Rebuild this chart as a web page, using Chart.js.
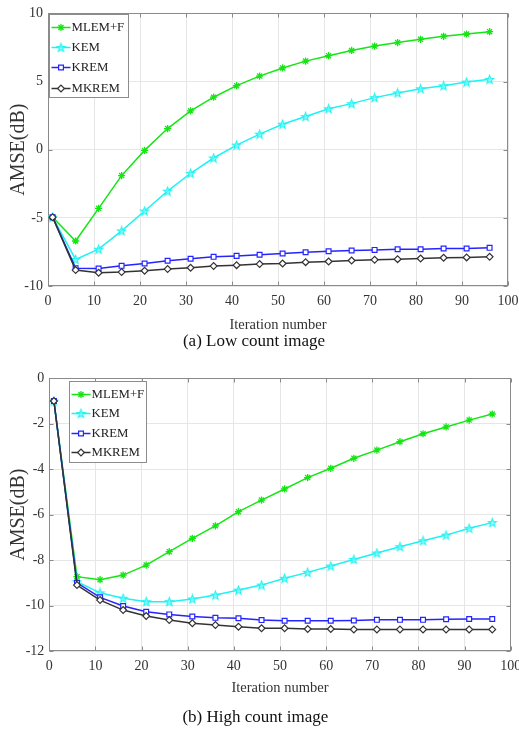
<!DOCTYPE html>
<html><head><meta charset="utf-8">
<script src="https://cdn.jsdelivr.net/npm/chart.js@4.4.1/dist/chart.umd.min.js"></script>
<style>
html,body{margin:0;padding:0;background:#fff;}
#wrap{width:519px;height:730px;position:relative;overflow:hidden;background:#fff}
canvas{display:block}
</style></head><body>
<div id="wrap">
<canvas id="c1" width="519" height="360"></canvas>
<canvas id="c2" width="519" height="370"></canvas>
</div>
<script>
// ---------- data ----------
const iterations = [1, 6, 11, 16, 21, 26, 31, 36, 41, 46, 51, 56, 61, 66, 71, 76, 81, 86, 91, 96];
const seriesNames = ['MLEM+F', 'KEM', 'KREM', 'MKREM'];

// (a) Low count image
const mlemLow  = [-4.95, -6.7, -4.3, -1.9, -0.05, 1.55, 2.85, 3.85, 4.7, 5.4, 6.0, 6.5, 6.9, 7.28, 7.6, 7.86, 8.1, 8.32, 8.49, 8.66];
const kemLow   = [-4.95, -8.05, -7.3, -5.96, -4.5, -3.04, -1.73, -0.61, 0.34, 1.14, 1.87, 2.43, 3.0, 3.38, 3.82, 4.16, 4.47, 4.69, 4.96, 5.16];
const kremLow  = [-4.95, -8.69, -8.72, -8.52, -8.35, -8.15, -8.0, -7.86, -7.79, -7.71, -7.62, -7.52, -7.45, -7.4, -7.35, -7.3, -7.3, -7.25, -7.25, -7.2];
const mkremLow = [-4.95, -8.83, -9.03, -8.98, -8.88, -8.76, -8.66, -8.54, -8.47, -8.39, -8.35, -8.25, -8.2, -8.13, -8.08, -8.03, -7.98, -7.93, -7.9, -7.86];

// (b) High count image
const mlemHigh  = [-1.0, -8.73, -8.86, -8.66, -8.22, -7.63, -7.04, -6.49, -5.87, -5.36, -4.87, -4.37, -3.96, -3.52, -3.16, -2.79, -2.44, -2.14, -1.84, -1.57];
const kemHigh   = [-1.0, -8.95, -9.44, -9.68, -9.83, -9.83, -9.71, -9.54, -9.32, -9.1, -8.8, -8.54, -8.26, -7.97, -7.69, -7.41, -7.15, -6.9, -6.6, -6.35];
const kremHigh  = [-1.0, -9.0, -9.64, -10.02, -10.27, -10.39, -10.48, -10.54, -10.56, -10.64, -10.67, -10.67, -10.67, -10.66, -10.63, -10.63, -10.63, -10.6, -10.59, -10.59];
const mkremHigh = [-1.0, -9.1, -9.76, -10.2, -10.46, -10.64, -10.78, -10.86, -10.93, -11.0, -11.0, -11.03, -11.03, -11.05, -11.05, -11.05, -11.05, -11.05, -11.05, -11.05];

const xTitle = 'Iteration number';
const yTitle = 'AMSE(dB)';
const captionLow = '(a) Low count image';
const captionHigh = '(b) High count image';

// ---------- styles ----------
const FONT = '"Liberation Serif", "Times New Roman", Times, serif';
const GREEN = '#14e614', CYAN = '#1ef2f2', BLUE = '#2424ff', BLACK = '#333333';

// pentagram marker drawn on a small canvas
function makePentagram(color) {
  const c = document.createElement('canvas');
  c.width = 11; c.height = 11;
  const g = c.getContext('2d');
  const cx = 5.5, cy = 5.8, R = 4.4, r = 1.8;
  g.beginPath();
  for (let i = 0; i < 10; i++) {
    const ang = -Math.PI / 2 + i * Math.PI / 5;
    const rad = i % 2 === 0 ? R : r;
    const px = cx + rad * Math.cos(ang), py = cy + rad * Math.sin(ang);
    if (i === 0) g.moveTo(px, py); else g.lineTo(px, py);
  }
  g.closePath();
  g.fillStyle = 'rgba(120,255,255,0.6)';
  g.fill();
  g.strokeStyle = color; g.lineWidth = 1.1;
  g.stroke();
  return c;
}
const PENTA = makePentagram(CYAN);

function pts(vals) { return iterations.map((x, i) => ({x: x, y: vals[i]})); }

function makeDatasets(m, k, kr, mk) {
  return [
    {label: seriesNames[0], data: pts(m), borderColor: GREEN, backgroundColor: GREEN, borderWidth: 1.5,
     pointStyle: 'star', pointRadius: 3.6, pointBorderWidth: 1.3, pointBorderColor: GREEN, pointBackgroundColor: GREEN, order: 3},
    {label: seriesNames[1], data: pts(k), borderColor: CYAN, backgroundColor: CYAN, borderWidth: 1.5,
     pointStyle: PENTA, pointRadius: 4, pointBorderWidth: 1, pointBorderColor: CYAN, pointBackgroundColor: CYAN, order: 2},
    {label: seriesNames[2], data: pts(kr), borderColor: BLUE, backgroundColor: BLUE, borderWidth: 1.5,
     pointStyle: 'rect', pointRadius: 3.4, pointBorderWidth: 1.2, pointBorderColor: BLUE, pointBackgroundColor: '#ffffff', order: 1},
    {label: seriesNames[3], data: pts(mk), borderColor: BLACK, backgroundColor: BLACK, borderWidth: 1.5,
     pointStyle: 'rectRot', pointRadius: 3.4, pointBorderWidth: 1.2, pointBorderColor: BLACK, pointBackgroundColor: '#ffffff', order: 0}
  ];
}

// axes box with inward ticks (MATLAB style)
const frameBox = {
  id: 'frameBox',
  beforeDatasetsDraw(chart) {
    const {ctx, chartArea: a, scales} = chart;
    const L = Math.round(a.left) + 0.5, T = Math.round(a.top) + 0.5;
    const R = Math.round(a.right) - 0.5, B = Math.round(a.bottom) - 0.5;
    ctx.save();
    ctx.strokeStyle = '#8a8a8a';
    ctx.lineWidth = 1;
    ctx.strokeRect(L, T, R - L, B - T);
    ctx.beginPath();
    scales.x.ticks.forEach(t => {
      const px = Math.round(scales.x.getPixelForValue(t.value)) + 0.5;
      ctx.moveTo(px, T); ctx.lineTo(px, T + 4);
      ctx.moveTo(px, B); ctx.lineTo(px, B - 4);
    });
    scales.y.ticks.forEach(t => {
      const py = Math.round(scales.y.getPixelForValue(t.value)) + 0.5;
      ctx.moveTo(L, py); ctx.lineTo(L + 4, py);
      ctx.moveTo(R, py); ctx.lineTo(R - 4, py);
    });
    ctx.stroke();
    ctx.restore();
  }
};

// boxed legend inside the axes
const boxLegend = {
  id: 'boxLegend',
  afterDraw(chart, args, o) {
    const {ctx, chartArea: a} = chart;
    const left = Math.round(a.left + o.dx) + 0.5, top = Math.round(a.top + o.dy) + 0.5;
    ctx.save();
    ctx.fillStyle = '#ffffff';
    ctx.strokeStyle = '#8c8c8c';
    ctx.lineWidth = 1;
    ctx.fillRect(left, top, o.w, o.h);
    ctx.strokeRect(left, top, o.w, o.h);
    chart.data.datasets.forEach((ds, i) => {
      const cy = Math.round(top + o.first + i * o.gap) + 0.5;
      ctx.strokeStyle = ds.borderColor;
      ctx.lineWidth = ds.borderWidth;
      ctx.beginPath(); ctx.moveTo(left + 2, cy); ctx.lineTo(left + 21, cy); ctx.stroke();
      ctx.fillStyle = ds.pointBackgroundColor;
      ctx.strokeStyle = ds.pointBorderColor;
      ctx.lineWidth = ds.pointBorderWidth;
      Chart.helpers.drawPoint(ctx, {pointStyle: ds.pointStyle, radius: ds.pointRadius, rotation: 0, borderWidth: ds.pointBorderWidth}, left + 11.5, cy);
      ctx.fillStyle = '#222';
      ctx.font = o.fontSize + 'px ' + FONT;
      ctx.textBaseline = 'middle';
      ctx.textAlign = 'left';
      ctx.fillText(ds.label, left + o.textX, cy + 0.5);
    });
    ctx.restore();
  }
};

function makeChart(id, datasets, yMin, yMax, yStep, g, caption, legendOpts) {
  return new Chart(document.getElementById(id), {
    type: 'line',
    data: {datasets: datasets},
    options: {
      responsive: false, animation: false, devicePixelRatio: 1,
      layout: {padding: {top: g.top, right: g.right, bottom: g.bottom, left: 0}},
      elements: {line: {tension: 0}},
      scales: {
        x: {
          type: 'linear', min: 0, max: 100,
          ticks: {stepSize: 10, padding: 7, color: '#333', font: {family: FONT, size: 14}},
          grid: {color: '#e6e6e6', drawTicks: false},
          border: {display: false},
          title: {display: true, text: xTitle, color: '#333', font: {family: FONT, size: 14.5}, padding: {top: 0, bottom: 0}},
          afterFit: s => { s.height = g.xh; s.paddingLeft = 0; s.paddingRight = 0; }
        },
        y: {
          type: 'linear', min: yMin, max: yMax,
          ticks: {stepSize: yStep, padding: 5, color: '#333', font: {family: FONT, size: 14}},
          grid: {color: '#e6e6e6', drawTicks: false},
          border: {display: false},
          title: {display: true, text: yTitle, color: '#333', font: {family: FONT, size: 20}, padding: {top: 7, bottom: 0}},
          afterFit: s => { s.width = g.yw; }
        }
      },
      plugins: {
        legend: {display: false},
        tooltip: {enabled: false},
        title: {display: true, position: 'bottom', text: caption, color: '#111',
                font: {family: FONT, size: 17, weight: 'normal', lineHeight: 1},
                padding: {top: g.capTop, bottom: 0}},
        boxLegend: legendOpts
      }
    },
    plugins: [frameBox, boxLegend]
  });
}

makeChart('c1', makeDatasets(mlemLow, kemLow, kremLow, mkremLow), -10, 10, 5,
  {top: 12, right: 11, bottom: 9.5, xh: 47.5, yw: 48, capTop: 0}, captionLow,
  {dx: 1, dy: 0.7, w: 79, h: 83, first: 12.3, gap: 20.3, textX: 22, fontSize: 12.8});

makeChart('c2', makeDatasets(mlemHigh, kemHigh, kremHigh, mkremHigh), -12, 0, 2,
  {top: 18.3, right: 8.3, bottom: 3.5, xh: 46.2, yw: 49.3, capTop: 12.3}, captionHigh,
  {dx: 20, dy: 2.4, w: 77, h: 81, first: 12, gap: 19.5, textX: 22, fontSize: 12.8});
</script>
</body></html>
